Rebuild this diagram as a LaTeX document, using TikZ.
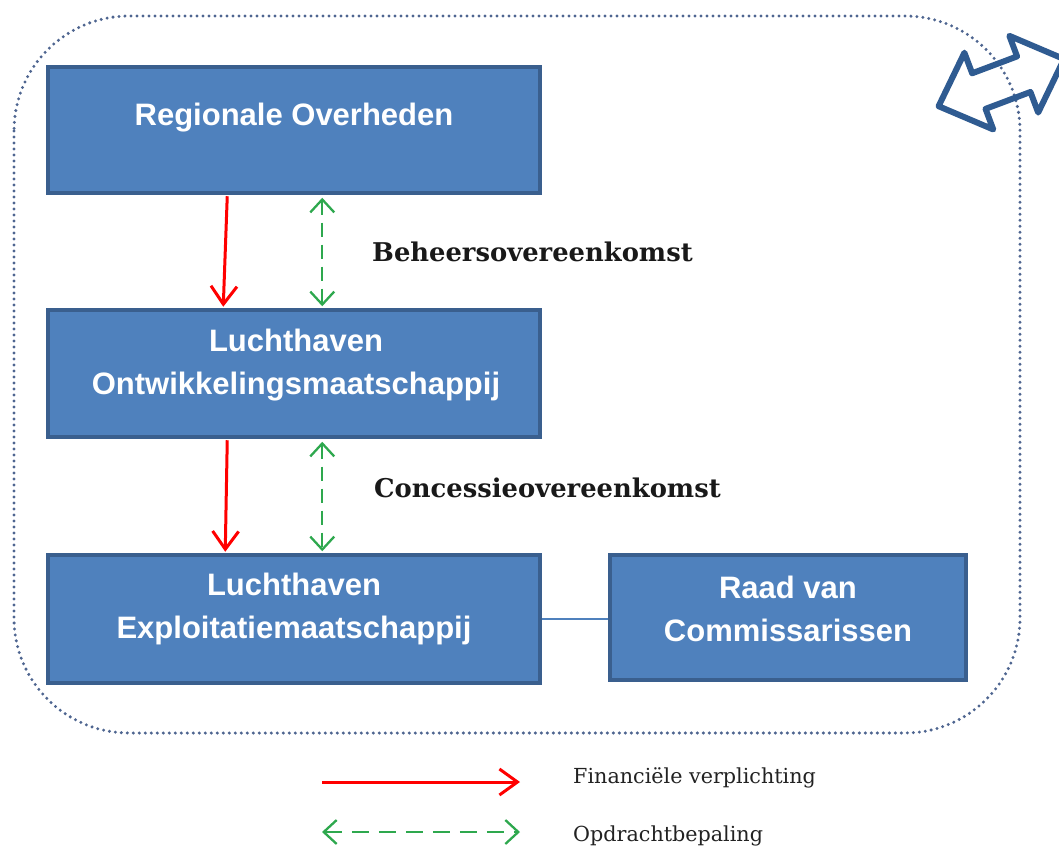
\documentclass[tikz,border=0pt]{standalone}
\usepackage{fontspec}
\setmainfont{DejaVu Serif}
\newfontfamily\boxfont{Liberation Sans}
\usetikzlibrary{arrows.meta,calc}
\definecolor{boxfill}{HTML}{4F81BD}
\definecolor{boxedge}{HTML}{3A5F8E}
\definecolor{dotcol}{HTML}{4E6590}
\definecolor{iconcol}{HTML}{2F5B91}
\definecolor{redarr}{HTML}{FF0000}
\definecolor{greenarr}{HTML}{2EA84E}
\definecolor{legtext}{HTML}{222222}
\tikzset{
  bluebox/.style={draw=boxedge, line width=3.5pt, fill=boxfill, minimum width=492pt, inner sep=0pt},
  boxtext/.style={text=white, font=\boxfont\bfseries\fontsize{31}{43}\selectfont, align=center, inner sep=0pt},
  fin/.style={draw=redarr, line width=3pt, -{Straight Barb[length=18pt,width=26pt,line width=3pt]}},
  opd/.style={draw=greenarr, line width=2.3pt, dash pattern=on 14pt off 8pt, {Straight Barb[length=13pt,width=24pt,line width=2.3pt]}-{Straight Barb[length=13pt,width=24pt,line width=2.3pt]}},
  agree/.style={font=\bfseries\fontsize{25.8}{30}\selectfont, text=black!90, anchor=west, inner sep=0pt},
  legend/.style={font=\fontsize{20.7}{25}\selectfont, text=legtext, anchor=west, inner sep=0pt},
}
\begin{document}
\begin{tikzpicture}[x=1pt,y=-1pt]
\useasboundingbox (0,0) rectangle (1059,850);
% dotted outline
\draw[dotcol, line width=3.3pt, line cap=round, dash pattern=on 0pt off 6pt, rounded corners=115pt]
  (14,16) rectangle (1020,733);
% double arrow icon
\begin{scope}[shift={(937,102)}, rotate=20.6]
\draw[iconcol, line width=6pt, line join=round]
  (0,4.5) -- (43,-36.5) -- (43,-14.5) -- (91,-14.5) -- (91,-36.5) -- (134,4.5)
  -- (91,45.5) -- (91,23.5) -- (43,23.5) -- (43,45.5) -- cycle;
\end{scope}
% boxes
\node[bluebox, minimum height=126pt] (ro) at (294,130) {};
\node[bluebox, minimum height=127pt] (lo) at (294,373.5) {};
\node[bluebox, minimum height=128pt] (le) at (294,619) {};
\node[bluebox, minimum width=356pt, minimum height=125pt] (rc) at (788,617.5) {};
\node[boxtext] (roT) at (294,118) {Regionale Overheden};
\node[boxtext] (loT) at (296,365) {Luchthaven\\Ontwikkelingsmaatschappij};
\node[boxtext] (leT) at (294,609) {Luchthaven\\Exploitatiemaatschappij};
\node[boxtext] (rcT) at (788,609) {Raad van\\Commissarissen};
% connectors
\draw[fin] ($(ro.south west)+(181,1.5)$) -- ($(lo.north west)+(177,-1.5)$);
\draw[fin] ($(lo.south west)+(181,1.5)$) -- ($(le.north west)+(179,-1.5)$);
\draw[opd] ($(ro.south west)+(276,3)$) -- ($(lo.north west)+(276,-2)$);
\draw[opd] ($(lo.south west)+(276,3)$) -- ($(le.north west)+(276,-2)$);
\draw[boxfill, line width=2pt] (le.east) -- (le.east -| rc.west);
% labels
\node[agree] (beh) at (372,252) {Beheersovereenkomst};
\node[agree] (con) at (374,488) {Concessieovereenkomst};
% legend
\coordinate (f1) at (322,782);
\coordinate (f2) at (520,782);
\coordinate (o1) at (322,832);
\coordinate (o2) at (520,832);
\draw[fin] (f1) -- (f2);
\draw[opd, dash pattern=on 17pt off 10pt] (o1) -- (o2);
\node[legend] (finT) at (573,778) {Financiële verplichting};
\node[legend] (opdT) at (573,836) {Opdrachtbepaling};
\end{tikzpicture}
\end{document}
